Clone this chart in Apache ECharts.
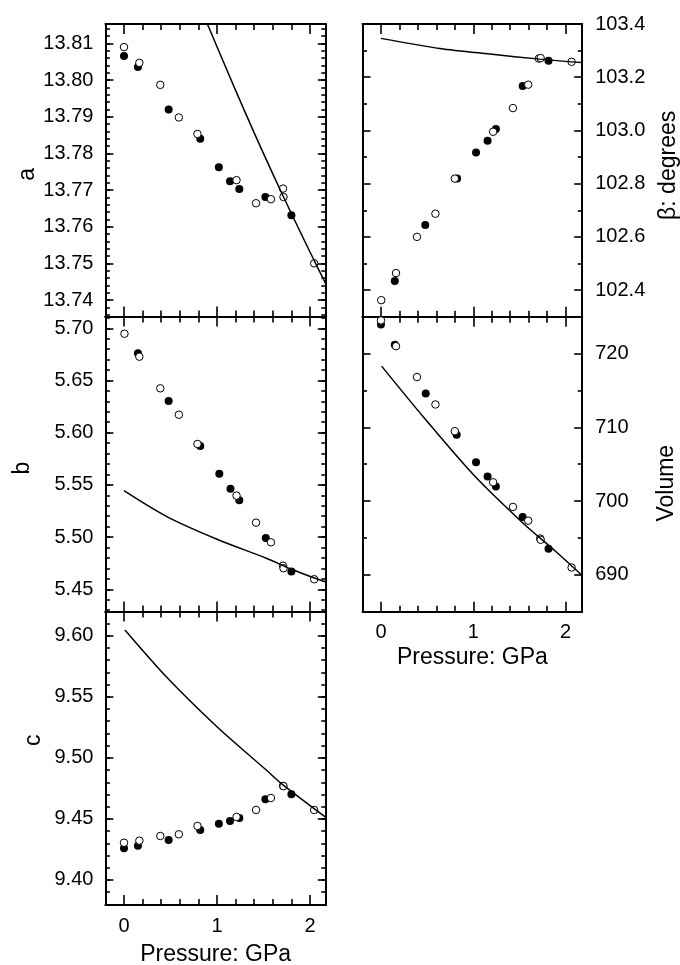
<!DOCTYPE html>
<html>
<head>
<meta charset="UTF-8">
<title>Lattice parameters vs pressure</title>
<script src="https://cdn.jsdelivr.net/npm/echarts@6/dist/echarts.min.js"></script>
<style>
  html, body { margin: 0; padding: 0; background: #fff; }
  #chart { width: 680px; height: 965px; }
</style>
</head>
<body>
<div id="chart"></div>
<script>
// ---- data: [pressure GPa, value] ----
const aFilled = [[0,13.8066],[0.15,13.8036],[0.48,13.792],[0.82,13.784],[1.02,13.7762],[1.14,13.7724],[1.24,13.7703],[1.52,13.7681],[1.8,13.7631]];
const aOpen = [[0,13.809],[0.165,13.8047],[0.39,13.7987],[0.59,13.7898],[0.79,13.7853],[1.21,13.7727],[1.42,13.7664],[1.58,13.7675],[1.71,13.7704],[1.715,13.7681],[2.045,13.75]];
const aCurve = [[0.88,13.8163],[1.0,13.8091],[1.2,13.7972],[1.4,13.7856],[1.6,13.7744],[1.8,13.7636],[2.0,13.7531],[2.17,13.7444]];

const bFilled = [[0.15,5.676],[0.48,5.6304],[0.82,5.5873],[1.025,5.5607],[1.145,5.5464],[1.24,5.5352],[1.525,5.4991],[1.8,5.4669]];
const bOpen = [[0.005,5.6948],[0.165,5.6728],[0.39,5.6425],[0.59,5.6172],[0.79,5.5892],[1.21,5.5397],[1.42,5.5138],[1.58,5.495],[1.71,5.4726],[1.715,5.4701],[2.045,5.4596]];
const bCurve = [[0,5.5444],[0.46,5.5196],[1.0,5.4979],[1.53,5.4797],[1.8,5.4692],[2.17,5.457]];

const cFilled = [[0,9.426],[0.15,9.4281],[0.48,9.4327],[0.82,9.4409],[1.02,9.4461],[1.14,9.4483],[1.24,9.4508],[1.52,9.466],[1.8,9.4702]];
const cOpen = [[0,9.4305],[0.165,9.4322],[0.39,9.436],[0.59,9.4374],[0.79,9.4442],[1.21,9.4516],[1.42,9.4573],[1.58,9.4671],[1.71,9.477],[1.715,9.4768],[2.045,9.4573]];
const cCurve = [[0.01,9.6047],[0.46,9.566],[1.0,9.5255],[1.53,9.49],[1.71,9.4778],[2.17,9.4512]];

const betaFilled = [[0.15,102.434],[0.48,102.645],[0.825,102.819],[1.03,102.917],[1.155,102.961],[1.245,103.005],[1.535,103.167],[1.815,103.262]];
const betaOpen = [[0.003,102.362],[0.163,102.464],[0.39,102.6],[0.59,102.687],[0.8,102.819],[1.215,102.995],[1.43,103.084],[1.595,103.172],[1.71,103.27],[1.73,103.272],[2.065,103.258]];
const betaCurve = [[0,103.346],[0.64,103.308],[1.18,103.287],[1.72,103.268],[2.18,103.255]];

const volFilled = [[0,723.94],[0.15,721.2],[0.485,714.6],[0.82,708.99],[1.03,705.26],[1.155,703.32],[1.245,701.96],[1.535,697.84],[1.815,693.53]];
const volOpen = [[0,724.5],[0.163,721.0],[0.39,716.82],[0.59,713.1],[0.8,709.48],[1.215,702.55],[1.43,699.2],[1.595,697.34],[1.725,694.93],[1.73,694.75],[2.065,690.99]];
const volCurve = [[0.007,718.3],[0.46,711.4],[1.0,703.6],[1.54,697.0],[1.9,693.1],[2.18,689.9]];

// ---- tick labels ----
const pMajor = [0, 1, 2];
const pMinor = [0.2, 0.4, 0.6, 0.8, 1.2, 1.4, 1.6, 1.8];
const aMajor = [13.74, 13.75, 13.76, 13.77, 13.78, 13.79, 13.80, 13.81];
const bMajor = [5.45, 5.50, 5.55, 5.60, 5.65, 5.70];
const cMajor = [9.40, 9.45, 9.50, 9.55, 9.60];
const betaMajor = [102.4, 102.6, 102.8, 103.0, 103.2, 103.4];
const volMajor = [690, 700, 710, 720];

function steps(a, b, s, d) {
  const out = [];
  for (let i = 0; a + i * s <= b + 1e-9; i++) out.push(+(a + i * s).toFixed(d));
  return out;
}
const aMinor = steps(13.736, 13.814, 0.002, 3);
const bMinor = steps(5.43, 5.71, 0.01, 2);
const cMinor = steps(9.38, 9.62, 0.01, 2);
const betaMinor = steps(102.3, 103.3, 0.2, 1);
const volMinor = [685, 695, 705, 715, 725];

const font = '"Liberation Sans", Arial, Helvetica, sans-serif';
const black = '#000';

function axisPair(dim, g, pos, min, max, major, minor, o) {
  const base = { type: 'value', gridIndex: g, position: pos, min: min, max: max, splitLine: { show: false } };
  const main = Object.assign({}, base, {
    axisLine: { show: true, onZero: false, lineStyle: { color: black, width: 2 } },
    axisTick: { show: true, inside: true, length: o.majorLen, customValues: major, lineStyle: { color: black, width: 1.6 } },
    axisLabel: { show: !!o.label, customValues: major, margin: o.margin || 12, color: black,
      fontFamily: font, fontSize: 20, formatter: v => v.toFixed(o.digits || 0) },
    name: o.name || '', nameLocation: 'middle', nameGap: o.nameGap || 0,
    nameRotate: dim === 'y' ? 90 : 0,
    nameTextStyle: { color: black, fontFamily: font, fontSize: 23, padding: o.namePad || 0 }
  });
  const sub = Object.assign({}, base, {
    axisLine: { show: false, onZero: false },
    axisTick: { show: true, inside: true, length: o.minorLen, customValues: minor, lineStyle: { color: black, width: 1.6 } },
    axisLabel: { show: false }
  });
  return [main, sub];
}

const L = { left: 105.4, width: 220.4 };
const R = { left: 362.5, width: 219.7 };
const panels = [
  { box: L, top: 24, height: 292.5, ymin: 13.7355, ymax: 13.8153, major: aMajor, minor: aMinor, digits: 2, side: 'left', name: 'a', nameGap: 59, namePad: [0, 8, 0, 0], xmax: 2.17, xlabel: false, filled: aFilled, open: aOpen, curve: aCurve },
  { box: L, top: 316.5, height: 295, ymin: 5.4287, ymax: 5.7113, major: bMajor, minor: bMinor, digits: 2, side: 'left', name: 'b', nameGap: 71, namePad: [0, 8, 0, 0], xmax: 2.17, xlabel: false, filled: bFilled, open: bOpen, curve: bCurve },
  { box: L, top: 611.5, height: 293.5, ymin: 9.3795, ymax: 9.6198, major: cMajor, minor: cMinor, digits: 2, side: 'left', name: 'c', nameGap: 60, namePad: [0, 0, 0, 36], xmax: 2.17, xlabel: true, xNameGap: 38, filled: cFilled, open: cOpen, curve: cCurve },
  { box: R, top: 24, height: 292.7, ymin: 102.3, ymax: 103.4, major: betaMajor, minor: betaMinor, digits: 1, side: 'right', name: 'β: degrees', nameGap: 75, namePad: [0, 0, 0, 10], xmax: 2.18, xlabel: false, filled: betaFilled, open: betaOpen, curve: betaCurve },
  { box: R, top: 316.7, height: 295, ymin: 685, ymax: 725, major: volMajor, minor: volMinor, digits: 0, side: 'right', name: 'Volume', nameGap: 73, namePad: [0, 38, 0, 0], xmax: 2.18, xlabel: true, xNameGap: 34, filled: volFilled, open: volOpen, curve: volCurve }
];

const grid = [], xAxis = [], yAxis = [], series = [];
panels.forEach((p, g) => {
  grid.push({ left: p.box.left, width: p.box.width, top: p.top, height: p.height, containLabel: false, outerBoundsMode: 'none' });
  xAxis.push(...axisPair('x', g, 'bottom', -0.2, p.xmax, pMajor, pMinor,
    { majorLen: 10, minorLen: 6, label: p.xlabel, margin: 11, digits: 0, name: p.xlabel ? 'Pressure: GPa' : '', nameGap: p.xNameGap }));
  xAxis.push(...axisPair('x', g, 'top', -0.2, p.xmax, pMajor, pMinor, { majorLen: 10, minorLen: 6 }));
  const other = p.side === 'left' ? 'right' : 'left';
  const labelled = axisPair('y', g, p.side, p.ymin, p.ymax, p.major, p.minor,
    { majorLen: 8, minorLen: 4.5, label: true, margin: p.side === 'left' ? 12 : 13, digits: p.digits, name: p.name, nameGap: p.nameGap, namePad: p.namePad });
  const mirror = axisPair('y', g, other, p.ymin, p.ymax, p.major, p.minor, { majorLen: 8, minorLen: 4.5 });
  yAxis.push(...(p.side === 'left' ? labelled.concat(mirror) : mirror.concat(labelled)));

  const xi = 4 * g, yi = 4 * g;
  series.push({ type: 'scatter', xAxisIndex: xi, yAxisIndex: yi, data: p.filled, symbol: 'circle', symbolSize: 8,
    itemStyle: { color: black, opacity: 1 }, silent: true, z: 2 });
  series.push({ type: 'scatter', xAxisIndex: xi, yAxisIndex: yi, data: p.open, symbol: 'circle', symbolSize: 7.5,
    itemStyle: { color: '#fff', borderColor: black, borderWidth: 1, opacity: 1 }, silent: true, z: 3 });
  series.push({ type: 'line', xAxisIndex: xi, yAxisIndex: yi, data: p.curve, smooth: 0.3, showSymbol: false,
    lineStyle: { color: black, width: 1.5 }, silent: true, z: 4 });
});

const chart = echarts.init(document.getElementById('chart'), null, { renderer: 'canvas' });
chart.setOption({
  animation: false,
  backgroundColor: '#fff',
  grid: grid,
  xAxis: xAxis,
  yAxis: yAxis,
  series: series
});
</script>
</body>
</html>
